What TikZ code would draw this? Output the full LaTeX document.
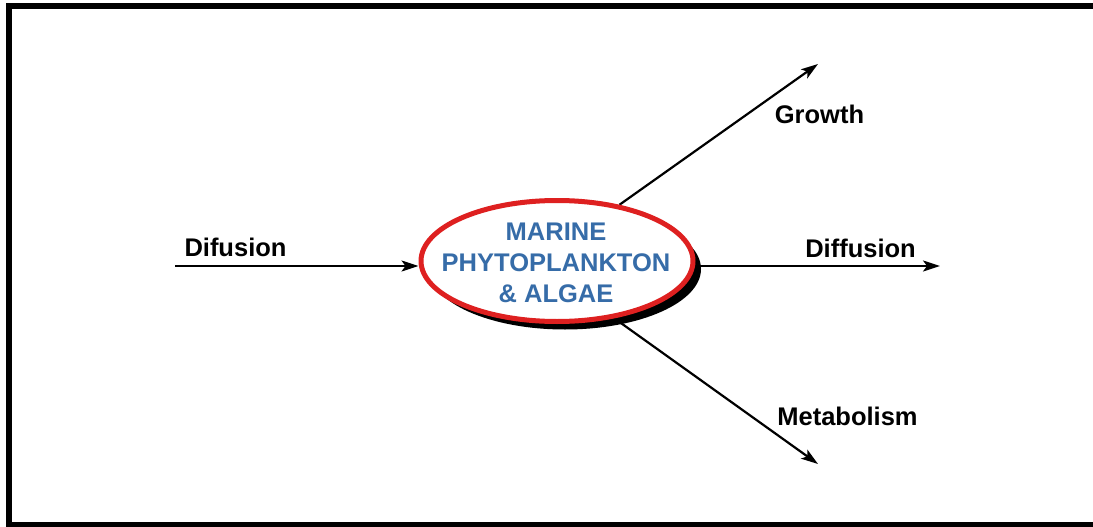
\documentclass[tikz,border=0pt]{standalone}
\usepackage{fontspec}
\setmainfont{Liberation Sans}
\usetikzlibrary{shapes.geometric,shadows,arrows.meta,backgrounds,positioning}
\definecolor{plankblue}{RGB}{54,108,168}
\definecolor{plankred}{RGB}{222,32,32}
\tikzset{flow/.style={line width=2.2pt,-{Stealth[length=17pt,width=11pt,inset=4pt]}},
         lbl/.style={font=\fontsize{25.5}{31}\selectfont\bfseries,inner sep=0pt,anchor=base}}

\begin{document}
\begin{tikzpicture}[x=1pt,y=-1pt]
  \useasboundingbox (0,0) rectangle (1093,527);
  \draw[line width=5.5pt] (1093,6) -- (9,6) -- (9,525) -- (1093,525);

  \node[ellipse,draw=plankred,line width=5pt,fill=white,minimum width=272pt,minimum height=121pt,
        drop shadow={shadow xshift=8pt,shadow yshift=-8pt,fill=black,opacity=1}] (plankton) at (557,261) {};
  \node[lbl,anchor=center,align=center,text=plankblue] (plankname) at (556,263) {MARINE\\PHYTOPLANKTON\\\& ALGAE};

  \coordinate (difin) at (175,266);
  \coordinate (difout) at (940,266);
  \coordinate (growth) at (818,64);
  \coordinate (metab) at (818,464);

  \node[lbl] (difin_lbl) at (235.5,256) {Difusion};
  \node[lbl] (difout_lbl) at (860.5,257) {Diffusion};
  \node[lbl] (growth_lbl) at (819.5,124) {Growth};
  \node[lbl] (metab_lbl) at (847.5,425) {Metabolism};

  \begin{scope}[on background layer]
    \path[flow]
      (difin) edge (difin -| plankton.west)
      (difin -| plankton.east) edge (difout)
      (plankton.42) edge (growth)
      (plankton.-45) edge (metab);
  \end{scope}
\end{tikzpicture}
\end{document}
